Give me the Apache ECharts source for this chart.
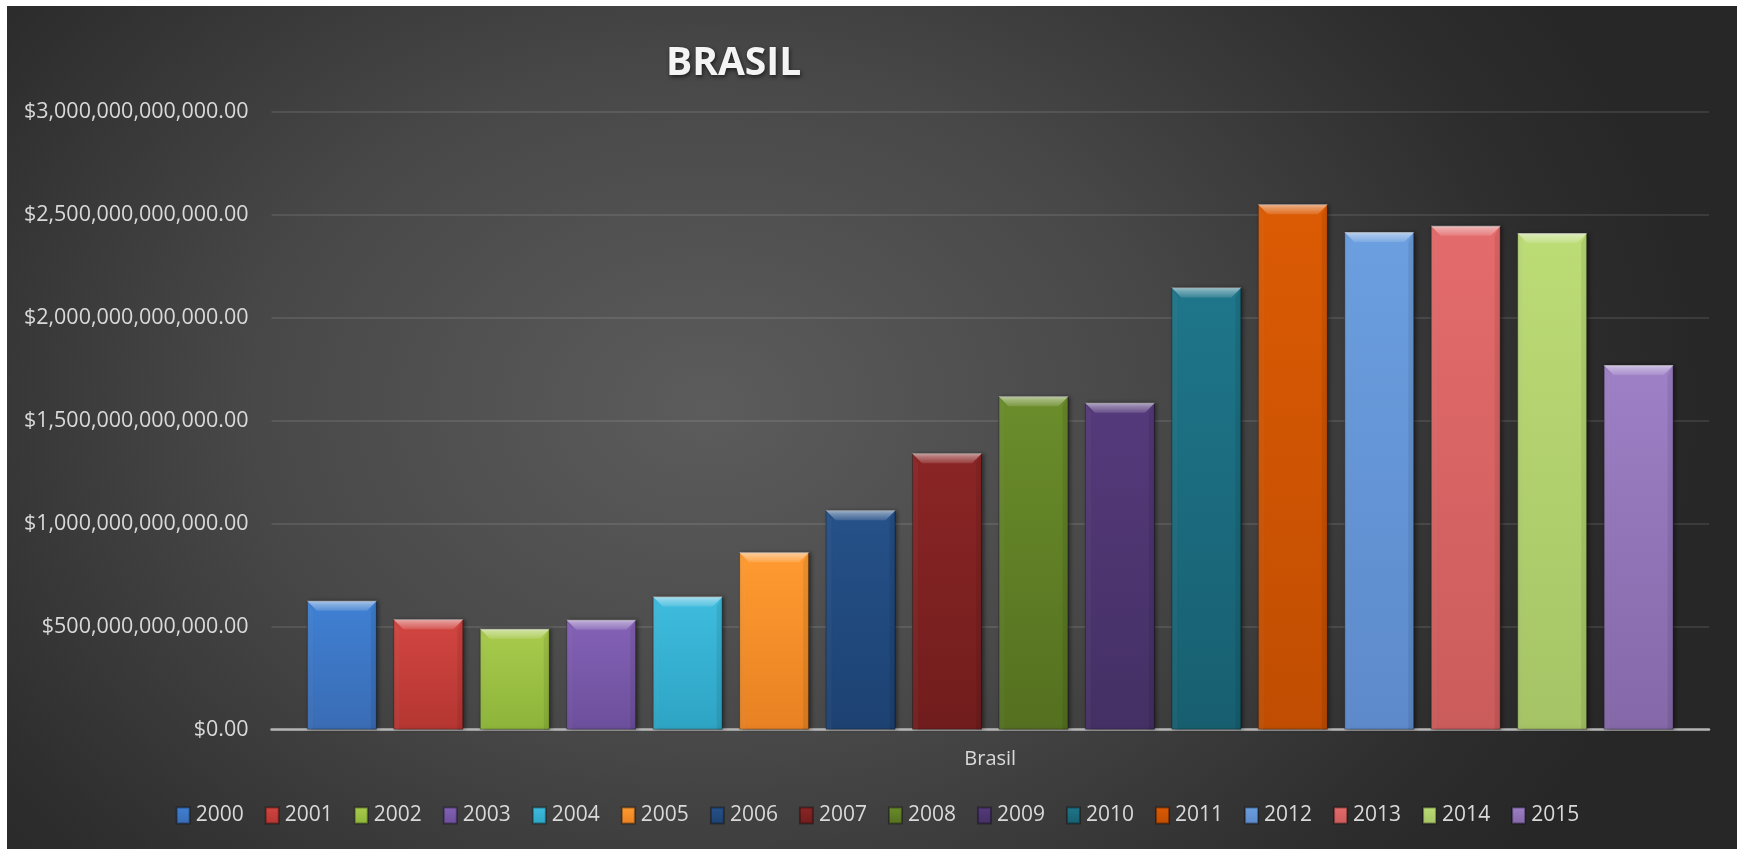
<!DOCTYPE html>
<html>
<head>
<meta charset="utf-8">
<script src="https://cdn.jsdelivr.net/npm/echarts@6/dist/echarts.min.js"></script>
<style>
  html, body { margin: 0; padding: 0; background: #ffffff; }
  #chart {
    position: absolute; left: 7px; top: 6px; width: 1730px; height: 843px;
    background: radial-gradient(ellipse 1000px 750px at 700px 400px,
      #5c5c5c 0%, #484848 45%, #2d2d2d 85%, #272727 100%);
  }
</style>
</head>
<body>
<div id="chart"></div>
<script>
// GDP of Brazil, current US$, one bar per year
const chartTitle = 'BRASIL';
const categories = ['Brasil'];
const years = ['2000', '2001', '2002', '2003', '2004', '2005', '2006', '2007',
               '2008', '2009', '2010', '2011', '2012', '2013', '2014', '2015'];
const gdpValues = [626e9, 536e9, 490e9, 534e9, 646e9, 861e9, 1065e9, 1342e9,
                   1618e9, 1587e9, 2146e9, 2550e9, 2415e9, 2445e9, 2410e9, 1770e9];
const yTickValues = [0, 5e11, 1e12, 1.5e12, 2e12, 2.5e12, 3e12];

// top / bottom shades of each year's bar
const barColors = [
  ['#3f80d3', '#3a6cb4'], ['#d24541', '#b53632'], ['#a8cb4c', '#8db43a'], ['#8462b6', '#6c4f9c'],
  ['#3ebcde', '#2ea4c4'], ['#ff9b31', '#e88122'], ['#255189', '#1d4272'], ['#8b2525', '#711d1d'],
  ['#6b8d2b', '#547020'], ['#553a7b', '#443064'], ['#1f768a', '#175f70'], ['#dc5b04', '#c04d02'],
  ['#6b9fdf', '#5d8acb'], ['#e46b6b', '#cb5c5c'], ['#bcdc76', '#a5c465'], ['#9d80c6', '#8468a8']
];

const BAR_W = 70;        // px
const BAR_GAP = 0.235;   // fraction of bar width
const BEVEL = 10;        // px

const fontFamily = '"Open Sans", "Noto Sans", sans-serif';
const labelColor = '#d9d9d9';

function fmtMoney(v) {
  return '$' + v.toLocaleString('en-US', { minimumFractionDigits: 2, maximumFractionDigits: 2 });
}

// bevel highlight drawn over bar number idx
function bevelRenderer(idx) {
  return function (params, api) {
    const topPt = api.coord([api.value(0), api.value(1)]);
    const basePt = api.coord([api.value(0), 0]);
    const pitch = BAR_W * (1 + BAR_GAP);
    const cx = topPt[0] + (idx - (years.length - 1) / 2) * pitch;
    const x0 = cx - BAR_W / 2, x1 = cx + BAR_W / 2;
    const y0 = topPt[1], y1 = basePt[1];
    const b = Math.min(BEVEL, (y1 - y0) / 2);
    return {
      type: 'group',
      children: [
        {
          type: 'polygon',
          shape: { points: [[x0, y0], [x1, y0], [x1 - b, y0 + b], [x0 + b, y0 + b]] },
          style: {
            fill: new echarts.graphic.LinearGradient(0, 0, 0, 1, [
              { offset: 0, color: 'rgba(255,255,255,0.6)' },
              { offset: 0.35, color: 'rgba(255,255,255,0.38)' },
              { offset: 1, color: 'rgba(255,255,255,0.12)' }
            ])
          }
        },
        {
          type: 'polygon',
          shape: { points: [[x1, y0], [x1, y1], [x1 - b * 0.6, y1], [x1 - b * 0.6, y0 + b]] },
          style: { fill: 'rgba(0,0,0,0.08)' }
        },
        {
          type: 'polygon',
          shape: { points: [[x0, y0], [x0 + b * 0.6, y0 + b], [x0 + b * 0.6, y1], [x0, y1]] },
          style: { fill: 'rgba(255,255,255,0.04)' }
        }
      ]
    };
  };
}

const barSeries = years.map((yr, i) => ({
  name: yr,
  type: 'bar',
  barWidth: BAR_W,
  barGap: (BAR_GAP * 100) + '%',
  data: [gdpValues[i]],
  itemStyle: {
    color: new echarts.graphic.LinearGradient(0, 0, 0, 1, [
      { offset: 0, color: barColors[i][0] },
      { offset: 1, color: barColors[i][1] }
    ]),
    borderColor: 'rgba(0,0,0,0.35)',
    borderWidth: 1,
    shadowColor: 'rgba(0,0,0,0.45)',
    shadowBlur: 4,
    shadowOffsetX: 2,
    shadowOffsetY: 0
  },
  emphasis: { disabled: true },
  z: 2
}));

const bevelSeries = years.map((yr, i) => ({
  name: 'bevel ' + yr,
  type: 'custom',
  silent: true,
  renderItem: bevelRenderer(i),
  data: [[0, gdpValues[i]]],
  encode: { x: 0, y: 1 },
  z: 3
}));

const chart = echarts.init(document.getElementById('chart'), null, { renderer: 'canvas' });
chart.setOption({
  backgroundColor: 'transparent',
  animation: false,
  title: {
    text: chartTitle,
    left: 659,
    top: 38,
    padding: 0,
    textStyle: {
      fontFamily: fontFamily,
      fontSize: 39,
      fontWeight: 'bold',
      color: '#f4f4f4',
      textShadowColor: 'rgba(0,0,0,0.6)',
      textShadowBlur: 4,
      textShadowOffsetX: 1,
      textShadowOffsetY: 2
    }
  },
  grid: { left: 264.5, right: 28, top: 105.5, bottom: 119.3, containLabel: false },
  legend: {
    data: years,
    left: 168.7,
    top: 799,
    itemWidth: 13,
    itemHeight: 16,
    itemGap: 21,
    icon: 'rect',
    padding: 0,
    selectedMode: false,
    textStyle: { fontFamily: fontFamily, fontSize: 21, color: labelColor, padding: [0, 0, 0, 1] }
  },
  xAxis: {
    type: 'category',
    data: categories,
    axisLine: { lineStyle: { color: '#b5b5b5', width: 2.5 } },
    axisTick: { show: false },
    axisLabel: { fontFamily: fontFamily, fontSize: 20, color: labelColor, margin: 20 },
    splitLine: { show: false }
  },
  yAxis: {
    type: 'value',
    min: yTickValues[0],
    max: yTickValues[yTickValues.length - 1],
    interval: yTickValues[1] - yTickValues[0],
    axisLine: { show: false },
    axisTick: { show: false },
    axisLabel: { fontFamily: fontFamily, fontSize: 21.5, color: labelColor, margin: 23, formatter: fmtMoney },
    splitLine: { lineStyle: { color: 'rgba(255,255,255,0.13)', width: 1.5 } }
  },
  series: barSeries.concat(bevelSeries)
});
</script>
</body>
</html>
